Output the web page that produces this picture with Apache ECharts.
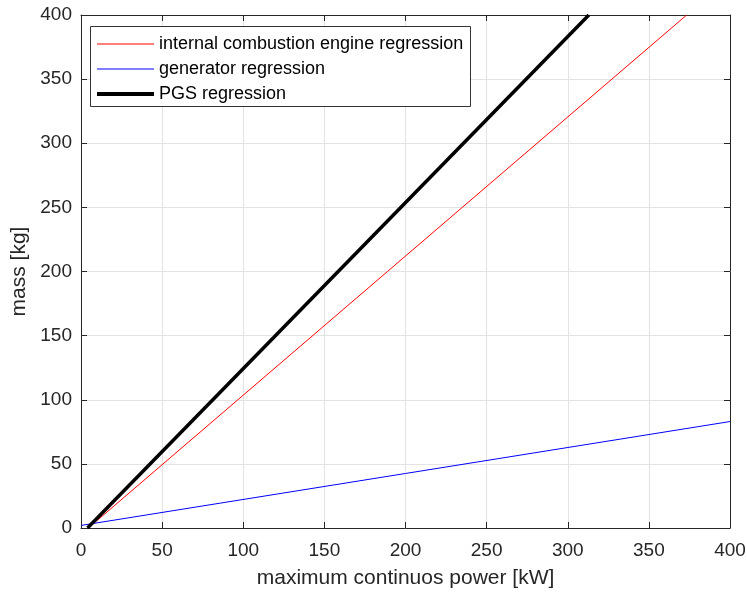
<!DOCTYPE html>
<html><head><meta charset="utf-8">
<script src="https://cdn.jsdelivr.net/npm/echarts@6/dist/echarts.min.js"></script>
<style>html,body{margin:0;padding:0;background:#fff}#c{width:747px;height:592px}</style>
</head><body><div id="c"></div>
<script>
const seriesNames = ['internal combustion engine regression','generator regression','PGS regression'];
const iceLine = [[4.5,0],[373.3,400]];
const genLine = [[0,2],[400,83]];
const pgsLine = [[4,0],[313,400]];
const xTicks = [0,50,100,150,200,250,300,350,400];
const yTicks = [0,50,100,150,200,250,300,350,400];

const font = 'Liberation Sans, Arial, sans-serif';
const axisCol = '#262626';
const chart = echarts.init(document.getElementById('c'));
const baseAxis = {
  min: 0, max: 400, interval: 50, type: 'value',
  axisLine: {show: true, onZero: false, lineStyle: {color: axisCol, width: 1}},
  axisTick: {show: true, inside: true, length: 6, lineStyle: {color: axisCol}},
};
function mkLegend(i, top, h) {
  return {
    orient: 'vertical', left: 97, top: top, itemWidth: 57, itemHeight: h, itemGap: 0,
    padding: 0, icon: 'rect', selectedMode: false, z: 10,
    textStyle: {fontFamily: font, fontSize: 18, color: '#000'},
    data: [seriesNames[i]]
  };
}
chart.setOption({
  animation: false,
  grid: {left: 81, right: 17, top: 15, bottom: 64, containLabel: false, outerBoundsMode: 'none'},
  legend: [mkLegend(0, 35, 1), mkLegend(1, 60, 1), mkLegend(2, 85, 4)],
  graphic: [{type: 'rect', left: 90, top: 26, z: 5, silent: true,
    shape: {x: 0, y: 0, width: 380, height: 80},
    style: {fill: '#fff', stroke: '#333', lineWidth: 1}}],
  xAxis: [
    Object.assign({}, baseAxis, {
      position: 'bottom',
      name: 'maximum continuos power [kW]', nameLocation: 'middle', nameGap: 40,
      nameTextStyle: {fontFamily: font, fontSize: 21, color: '#262626'},
      axisLabel: {fontFamily: font, fontSize: 19, color: '#262626', margin: 13,
        formatter: v => xTicks.includes(v) ? String(v) : ''},
      splitLine: {show: true, lineStyle: {color: '#e3e3e3', width: 1}}
    }),
    Object.assign({}, baseAxis, {position: 'top', axisLabel: {show: false}, splitLine: {show: false}})
  ],
  yAxis: [
    Object.assign({}, baseAxis, {
      position: 'left',
      name: 'mass [kg]', nameLocation: 'middle', nameGap: 50,
      nameTextStyle: {fontFamily: font, fontSize: 21, color: '#262626'},
      axisLabel: {fontFamily: font, fontSize: 19, color: '#262626', margin: 9,
        formatter: v => yTicks.includes(v) ? String(v) : ''},
      splitLine: {show: true, lineStyle: {color: '#e3e3e3', width: 1}}
    }),
    Object.assign({}, baseAxis, {position: 'right', axisLabel: {show: false}, splitLine: {show: false}})
  ],
  series: [
    {name: seriesNames[0], type: 'line', data: iceLine, symbol: 'none', lineStyle: {color: '#ff0000', width: 1}, itemStyle: {color: '#ff0000'}, z: 3},
    {name: seriesNames[1], type: 'line', data: genLine, symbol: 'none', lineStyle: {color: '#0000ff', width: 1}, itemStyle: {color: '#0000ff'}, z: 3},
    {name: seriesNames[2], type: 'line', data: pgsLine, symbol: 'none', lineStyle: {color: '#000000', width: 3.5}, itemStyle: {color: '#000000'}, z: 4}
  ]
});
</script></body></html>
